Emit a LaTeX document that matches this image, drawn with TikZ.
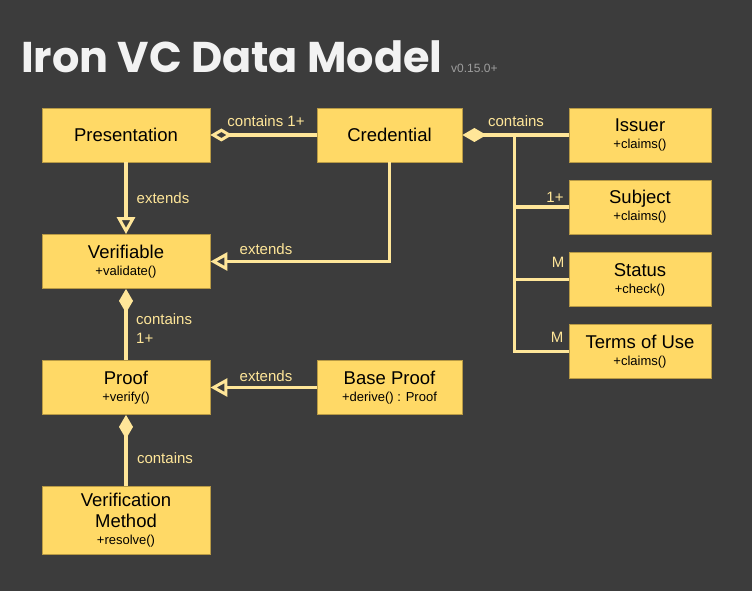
\documentclass[tikz,border=0pt]{standalone}
\usepackage{fontspec}
\setmainfont{Liberation Sans}
\newfontfamily\titlefont{Poppins Bold}
\usetikzlibrary{arrows.meta}
\definecolor{bgcol}{HTML}{3C3C3C}
\definecolor{boxfill}{HTML}{FFD966}
\definecolor{boxline}{HTML}{B89A45}
\definecolor{linecol}{HTML}{FFE699}
\definecolor{titlecol}{HTML}{F2F2F2}
\definecolor{vercol}{HTML}{9E9E9E}
\tikzset{
  umlbox/.style={draw=boxline, line width=0.8pt, fill=boxfill, align=center, inner sep=0pt,
    font=\fontsize{18.5}{20}\selectfont, text=black},
  wide/.style={minimum width=168pt},
  narrow/.style={minimum width=145pt},
  rightbox/.style={minimum width=142pt},
  hgt/.style={minimum height=54pt},
  conn/.style={draw=linecol, line width=3.5pt},
  lbl/.style={text=linecol, font=\fontsize{15}{16}\selectfont, inner sep=0pt},
  opentri/.style={-{Triangle[open, length=17pt, width=18pt, line width=3pt]}},
  openfromdia/.style={{Diamond[open, length=22pt, width=13pt, line width=3pt]}-},
  filldia/.style={{Diamond[length=24pt, width=14pt]}-},
}
\newcommand{\meth}[1]{\\[-3pt]{\fontsize{13}{14}\selectfont #1}}
\begin{document}
\begin{tikzpicture}[x=1pt, y=-1pt]
\fill[bgcol] (0,0) rectangle (752,591);
\useasboundingbox (0,0) rectangle (752,591);

\node[anchor=base west, inner sep=0pt, text=titlecol, font=\titlefont\fontsize{43}{46}\selectfont] (title) at (21,73) {Iron VC Data Model};
\node[anchor=base west, inner sep=0pt, text=vercol, font=\fontsize{12}{13}\selectfont] (ver) at (451,73) {v0.15.0+};

\node[umlbox, wide, hgt] (pres) at (126,135) {Presentation};
\node[umlbox, narrow, hgt] (cred) at (389.5,135) {Credential};
\node[umlbox, rightbox, hgt] (issuer) at (640,135) {Issuer\meth{+claims()}};
\node[umlbox, rightbox, hgt] (subject) at (640,207) {Subject\meth{+claims()}};
\node[umlbox, rightbox, hgt] (status) at (640,279.5) {Status\meth{+check()}};
\node[umlbox, rightbox, hgt] (terms) at (640,351.5) {Terms of Use\meth{+claims()}};
\node[umlbox, wide, hgt] (verif) at (126,261.5) {Verifiable\meth{+validate()}};
\node[umlbox, wide, hgt] (proof) at (126,387.5) {Proof\meth{+verify()}};
\node[umlbox, narrow, hgt] (base) at (389.5,387.5) {Base Proof\meth{+derive() : Proof}};
\node[umlbox, wide, minimum height=68pt] (vm) at (126,520) {Verification\\[1pt]Method\meth{+resolve()}};

% Presentation <>-- Credential
\draw[conn, openfromdia] (pres.east) -- (cred.west);
\node[lbl] (l1) at (266,121) {contains 1+};

% Credential <#>-- Issuer etc.
\coordinate (trunk) at (514.5,135);
\draw[conn, filldia] (cred.east) -- (issuer.west);
\draw[conn] (trunk) -- (trunk |- terms.west) -- (terms.west);
\draw[conn] (trunk |- subject.west) -- (subject.west);
\draw[conn] (trunk |- status.west) -- (status.west);
\node[lbl] (l2) at (516,121) {contains};
\node[lbl] (l3) at (555,197) {1+};
\node[lbl] (l4) at (558,262) {M};
\node[lbl] (l5) at (557,337) {M};

% extends
\draw[conn, opentri] (pres.south) -- (verif.north);
\node[lbl] (l6) at (163,198) {extends};
\draw[conn, opentri] (cred.south) |- (verif.east);
\node[lbl] (l7) at (266,249) {extends};
\draw[conn, opentri] (base.west) -- (proof.east);
\node[lbl] (l8) at (266,376) {extends};

% contains
\draw[conn, filldia] (verif.south) -- (proof.north);
\node[lbl, anchor=west, align=left] (l9) at (136,329) {contains\\[3pt]1+};
\draw[conn, filldia] (proof.south) -- (vm.north);
\node[lbl] (l10) at (165,458) {contains};
\end{tikzpicture}
\end{document}
